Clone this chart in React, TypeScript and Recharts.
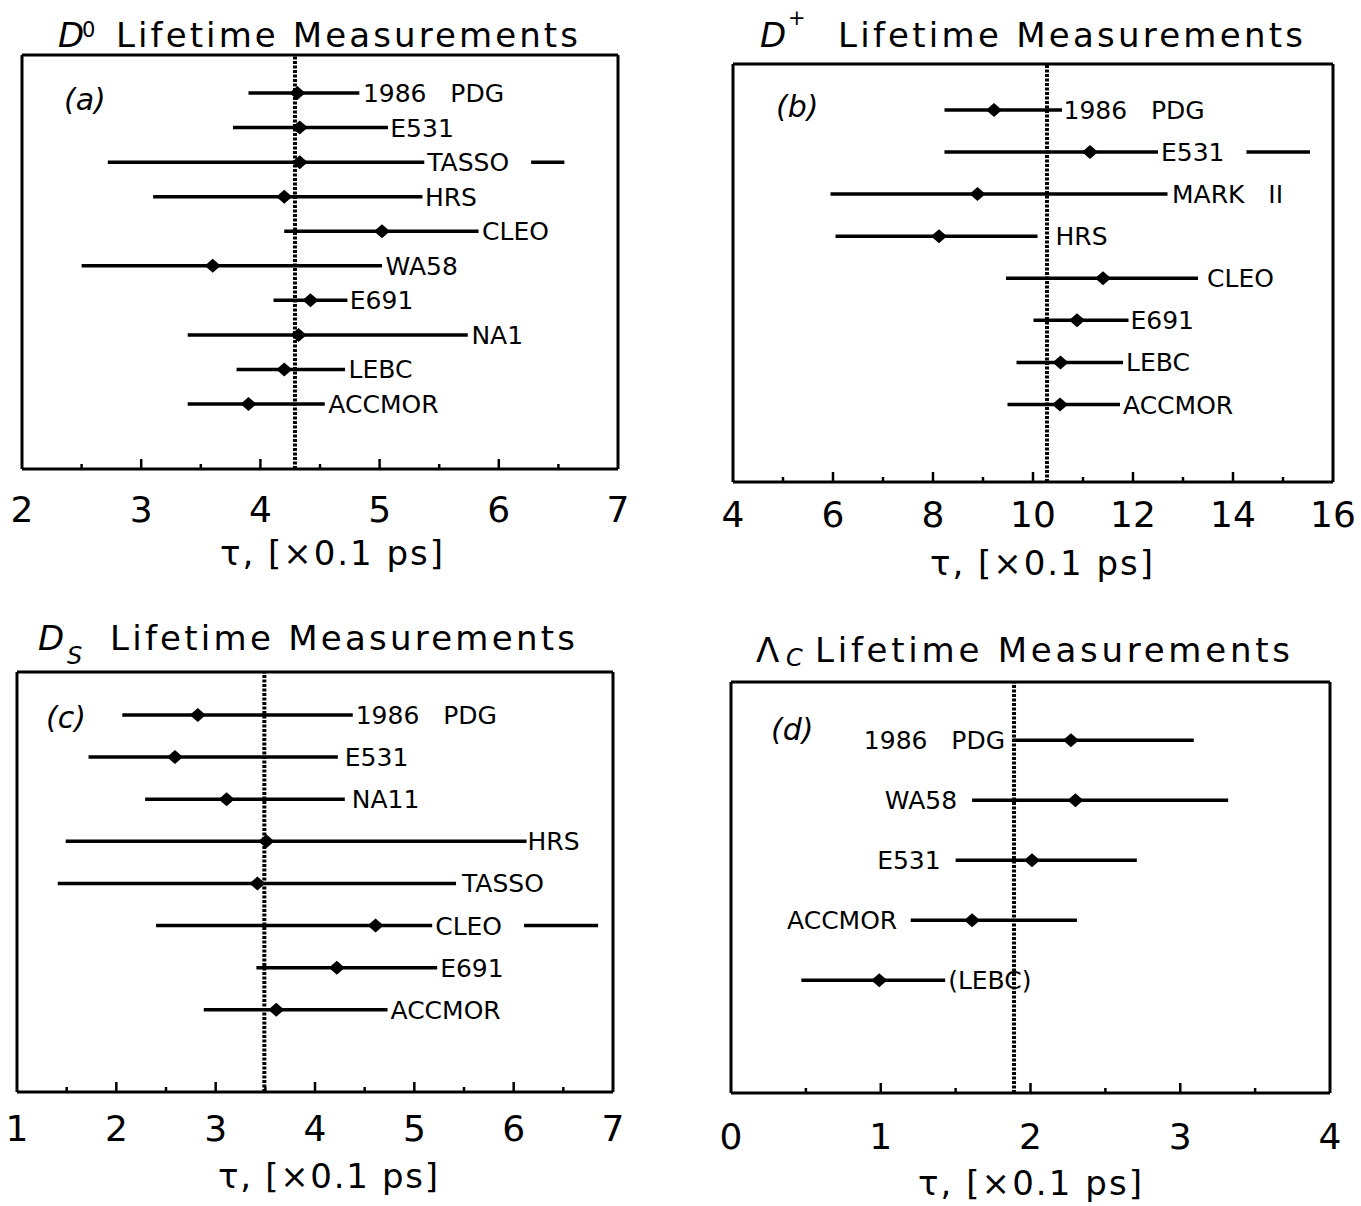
import React from 'react';
import { ScatterChart, Scatter, XAxis, YAxis, ErrorBar, ReferenceLine } from 'recharts';

const PAGE_W = 1361;
const PAGE_H = 1206;
const FONT = '"DejaVu Sans", "Liberation Sans", sans-serif';
const LABEL_SIZE = 25;
const AXIS_PAD = 1;

// ---------- (a) D0 lifetime measurements ----------
const d0Names = ['1986   PDG', 'E531', 'TASSO', 'HRS', 'CLEO', 'WA58', 'E691', 'NA1', 'LEBC', 'ACCMOR'];
const d0Tau = [4.31, 4.33, 4.33, 4.2, 5.02, 3.6, 4.42, 4.32, 4.2, 3.9];
const d0Low = [3.9, 3.77, 2.72, 3.1, 4.2, 2.5, 4.11, 3.39, 3.8, 3.39];
const d0High = [4.83, 5.07, 6.55, 5.36, 5.83, 5.02, 4.73, 5.74, 4.71, 4.54];
const d0LabelAt = [4.86, 5.09, 5.4, 5.38, 5.86, 5.05, 4.75, 5.77, 4.74, 4.57];
const d0World = 4.29;
const d0Ticks = [2, 2.5, 3, 3.5, 4, 4.5, 5, 5.5, 6, 6.5, 7];
const d0TickLabels = [2, 3, 4, 5, 6, 7];

// ---------- (b) D+ lifetime measurements ----------
const dpNames = ['1986   PDG', 'E531', 'MARK   II', 'HRS', 'CLEO', 'E691', 'LEBC', 'ACCMOR'];
const dpTau = [9.22, 11.14, 8.89, 8.12, 11.4, 10.88, 10.55, 10.54];
const dpLow = [8.23, 8.23, 5.95, 6.05, 9.46, 10.01, 9.67, 9.49];
const dpHigh = [10.58, 15.54, 12.69, 10.09, 13.3, 11.91, 11.8, 11.74];
const dpLabelAt = [10.61, 12.56, 12.78, 10.45, 13.48, 11.95, 11.86, 11.8];
const dpWorld = 10.28;
const dpTicks = [4, 5, 6, 7, 8, 9, 10, 11, 12, 13, 14, 15, 16];
const dpTickLabels = [4, 6, 8, 10, 12, 14, 16];

// ---------- (c) Ds lifetime measurements ----------
const dsNames = ['1986   PDG', 'E531', 'NA11', 'HRS', 'TASSO', 'CLEO', 'E691', 'ACCMOR'];
const dsTau = [2.82, 2.59, 3.11, 3.51, 3.42, 4.61, 4.22, 3.61];
const dsLow = [2.06, 1.72, 2.29, 1.49, 1.41, 2.4, 3.41, 2.88];
const dsHigh = [4.38, 4.23, 4.3, 6.13, 5.42, 6.85, 5.23, 4.73];
const dsLabelAt = [4.41, 4.3, 4.37, 6.14, 5.48, 5.21, 5.26, 4.76];
const dsWorld = 3.49;
const dsTicks = [1, 1.5, 2, 2.5, 3, 3.5, 4, 4.5, 5, 5.5, 6, 6.5, 7];
const dsTickLabels = [1, 2, 3, 4, 5, 6, 7];

// ---------- (d) Lambda_c lifetime measurements ----------
const lcNames = ['1986   PDG', 'WA58', 'E531', 'ACCMOR', '(LEBC)'];
const lcTau = [2.27, 2.3, 2.01, 1.61, 0.99];
const lcLow = [1.88, 1.61, 1.5, 1.2, 0.47];
const lcHigh = [3.09, 3.32, 2.71, 2.31, 1.43];
const lcLabelAt = [1.83, 1.51, 1.4, 1.11, 1.45];
const lcLabelSide = ['end', 'end', 'end', 'end', 'start'];
const lcWorld = 1.89;
const lcTicks = [0, 0.5, 1, 1.5, 2, 2.5, 3, 3.5, 4];
const lcTickLabels = [0, 1, 2, 3, 4];

type Box = { left: number; right: number; top: number; bottom: number };
type Panel = {
  key: string;
  names: string[];
  tau: number[];
  low: number[];
  high: number[];
  labelAt: number[];
  side?: string[];
  world: number;
  ticks: number[];
  tickLabels: number[];
  box: Box;
  yDomain: [number, number];
  tickLabelDy: number;
};

const panels: Panel[] = [
  {
    key: 'a', names: d0Names, tau: d0Tau, low: d0Low, high: d0High, labelAt: d0LabelAt,
    world: d0World, ticks: d0Ticks, tickLabels: d0TickLabels,
    box: { left: 22, right: 618, top: 55, bottom: 469 }, yDomain: [-1.1, 10.88], tickLabelDy: 53,
  },
  {
    key: 'b', names: dpNames, tau: dpTau, low: dpLow, high: dpHigh, labelAt: dpLabelAt,
    world: dpWorld, ticks: dpTicks, tickLabels: dpTickLabels,
    box: { left: 733, right: 1333, top: 64, bottom: 482 }, yDomain: [-1.09, 8.84], tickLabelDy: 45,
  },
  {
    key: 'c', names: dsNames, tau: dsTau, low: dsLow, high: dsHigh, labelAt: dsLabelAt,
    world: dsWorld, ticks: dsTicks, tickLabels: dsTickLabels,
    box: { left: 17, right: 613, top: 672, bottom: 1092 }, yDomain: [-1.02, 8.95], tickLabelDy: 49,
  },
  {
    key: 'd', names: lcNames, tau: lcTau, low: lcLow, high: lcHigh, labelAt: lcLabelAt, side: lcLabelSide,
    world: lcWorld, ticks: lcTicks, tickLabels: lcTickLabels,
    box: { left: 731, right: 1330, top: 682, bottom: 1093 }, yDomain: [-0.97, 5.88], tickLabelDy: 56,
  },
];

let measureCtx: CanvasRenderingContext2D | null = null;
function textWidth(s: string, size: number): number {
  if (!measureCtx && typeof document !== 'undefined') {
    measureCtx = document.createElement('canvas').getContext('2d');
  }
  if (!measureCtx) return s.length * size * 0.62;
  measureCtx.font = `${size}px "DejaVu Sans"`;
  return measureCtx.measureText(s).width;
}

const Diamond = (props: any) => {
  const { cx, cy } = props;
  if (cx == null || cy == null) return <g />;
  return (
    <path
      d={`M${cx - 8},${cy}L${cx},${cy - 7}L${cx + 8},${cy}L${cx},${cy + 7}Z`}
      fill="#000"
    />
  );
};

const EntryLabel = (props: any) => {
  const { cx, cy, payload } = props;
  if (cx == null || cy == null) return <g />;
  const w = textWidth(payload.name, LABEL_SIZE);
  return (
    <g>
      {payload.masked && <rect x={cx - 3} y={cy - 5} width={w + 25} height={10} fill="#fff" />}
      <text
        x={cx}
        y={cy}
        dy={9}
        textAnchor={payload.side}
        fontFamily={FONT}
        fontSize={LABEL_SIZE}
        fill="#000"
        style={{ whiteSpace: 'pre' }}
      >
        {payload.name}
      </text>
    </g>
  );
};

function PanelChart({ p }: { p: Panel }) {
  const rows = p.names.map((name, i) => ({
    x: p.tau[i],
    y: i,
    name,
    err: [p.tau[i] - p.low[i], p.high[i] - p.tau[i]],
  }));
  const labelRows = p.names.map((name, i) => {
    const side = p.side ? p.side[i] : 'start';
    return {
      x: p.labelAt[i],
      y: i,
      name,
      side,
      masked: side === 'start' && p.high[i] > p.labelAt[i] + 0.05,
    };
  });
  const xDomain: [number, number] = [p.ticks[0], p.ticks[p.ticks.length - 1]];
  const margin = {
    top: p.box.top - AXIS_PAD,
    left: p.box.left - AXIS_PAD,
    right: PAGE_W - p.box.right - AXIS_PAD,
    bottom: PAGE_H - p.box.bottom - AXIS_PAD,
  };
  const renderTick = (props: any) => {
    const { x, y, payload } = props;
    const v = payload.value;
    const labeled = p.tickLabels.includes(v);
    const edge = v === xDomain[0] || v === xDomain[1];
    return (
      <g>
        {!edge && (
          <line x1={x} x2={x} y1={y} y2={y - (labeled ? 10 : 5)} stroke="#000" strokeWidth={2.5} />
        )}
        {labeled && (
          <text x={x} y={y + p.tickLabelDy} textAnchor="middle" fontFamily={FONT} fontSize={36} fill="#000">
            {String(v)}
          </text>
        )}
      </g>
    );
  };
  const frame = { stroke: '#000', strokeWidth: 3 };
  return (
    <div style={{ position: 'absolute', left: 0, top: 0, width: PAGE_W, height: PAGE_H }}>
      <ScatterChart width={PAGE_W} height={PAGE_H} margin={margin}>
        <XAxis
          dataKey="x"
          type="number"
          domain={xDomain}
          allowDataOverflow
          ticks={p.ticks}
          interval={0}
          height={AXIS_PAD}
          tickSize={0}
          tickMargin={0}
          tickLine={false}
          tick={renderTick}
          axisLine={frame}
        />
        <XAxis
          xAxisId="top"
          orientation="top"
          dataKey="x"
          type="number"
          domain={xDomain}
          allowDataOverflow
          height={AXIS_PAD}
          tick={false}
          tickLine={false}
          axisLine={frame}
        />
        <YAxis
          dataKey="y"
          type="number"
          domain={p.yDomain}
          allowDataOverflow
          reversed
          width={AXIS_PAD}
          tick={false}
          tickLine={false}
          axisLine={frame}
        />
        <YAxis
          yAxisId="right"
          orientation="right"
          dataKey="y"
          type="number"
          domain={p.yDomain}
          allowDataOverflow
          reversed
          width={AXIS_PAD}
          tick={false}
          tickLine={false}
          axisLine={frame}
        />
        <ReferenceLine x={p.world} stroke="#000" strokeWidth={4} strokeDasharray="3 1.5" />
        <Scatter data={rows} shape={Diamond} isAnimationActive={false}>
          <ErrorBar dataKey="err" direction="x" width={0} stroke="#000" strokeWidth={3.5} />
        </Scatter>
        <Scatter data={labelRows} shape={EntryLabel} isAnimationActive={false} />
      </ScatterChart>
    </div>
  );
}

const TITLE_SIZE = 34;
const AXIS_TITLE = 'τ, [×0.1 ps]';

function Overlay() {
  const t = { fontFamily: FONT, fill: '#000' } as const;
  return (
    <svg
      width={PAGE_W}
      height={PAGE_H}
      style={{ position: 'absolute', left: 0, top: 0, pointerEvents: 'none' }}
    >
      {/* (a) title */}
      <text {...t} x={58} y={47} fontSize={TITLE_SIZE} fontStyle="italic">D</text>
      <text {...t} x={82} y={37} fontSize={21}>0</text>
      <text {...t} x={116} y={47} fontSize={TITLE_SIZE} textLength={462} lengthAdjust="spacing">Lifetime Measurements</text>
      {/* (b) title */}
      <text {...t} x={760} y={47} fontSize={TITLE_SIZE} fontStyle="italic">D</text>
      <text {...t} x={788} y={25} fontSize={21}>+</text>
      <text {...t} x={838} y={47} fontSize={TITLE_SIZE} textLength={465} lengthAdjust="spacing">Lifetime Measurements</text>
      {/* (c) title */}
      <text {...t} x={38} y={650} fontSize={TITLE_SIZE} fontStyle="italic">D</text>
      <text {...t} x={67} y={664} fontSize={24} fontStyle="italic">S</text>
      <text {...t} x={110} y={650} fontSize={TITLE_SIZE} textLength={465} lengthAdjust="spacing">Lifetime Measurements</text>
      {/* (d) title */}
      <text {...t} x={756} y={662} fontSize={TITLE_SIZE}>Λ</text>
      <text {...t} x={786} y={666} fontSize={24} fontStyle="italic">C</text>
      <text {...t} x={815} y={662} fontSize={TITLE_SIZE} textLength={475} lengthAdjust="spacing">Lifetime Measurements</text>

      {/* panel letters */}
      <text {...t} x={64} y={110} fontSize={30} fontStyle="italic">(a)</text>
      <text {...t} x={776} y={117} fontSize={30} fontStyle="italic">(b)</text>
      <text {...t} x={46} y={728} fontSize={30} fontStyle="italic">(c)</text>
      <text {...t} x={771} y={740} fontSize={30} fontStyle="italic">(d)</text>

      {/* axis titles */}
      <text {...t} x={220} y={565} fontSize={34} textLength={223} lengthAdjust="spacing">{AXIS_TITLE}</text>
      <text {...t} x={930} y={575} fontSize={34} textLength={223} lengthAdjust="spacing">{AXIS_TITLE}</text>
      <text {...t} x={218} y={1188} fontSize={34} textLength={220} lengthAdjust="spacing">{AXIS_TITLE}</text>
      <text {...t} x={918} y={1195} fontSize={34} textLength={224} lengthAdjust="spacing">{AXIS_TITLE}</text>
    </svg>
  );
}

export default function App() {
  return (
    <div
      style={{
        position: 'absolute',
        left: 0,
        top: 0,
        width: PAGE_W,
        height: PAGE_H,
        background: '#fff',
        overflow: 'hidden',
      }}
    >
      {panels.map((p) => (
        <PanelChart key={p.key} p={p} />
      ))}
      <Overlay />
    </div>
  );
}
